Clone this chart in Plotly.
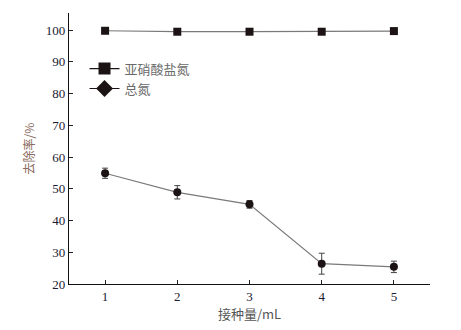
import plotly.graph_objects as go

inoculum = [1, 2, 3, 4, 5]
nitrite_removal = [99.8, 99.5, 99.5, 99.5, 99.7]
nitrite_err = [0.4, 0.4, 0.4, 0.4, 0.4]
tn_removal = [54.9, 48.9, 45.1, 26.4, 25.4]
tn_err = [1.6, 2.1, 1.2, 3.3, 1.8]
series_names = ["亚硝酸盐氮", "总氮"]
x_tick_vals = [1, 2, 3, 4, 5, 5.5]
x_tick_text = ["1", "2", "3", "4", "5", ""]
y_tick_vals = [20, 30, 40, 50, 60, 70, 80, 90, 100, 105.4]
y_tick_text = ["20", "30", "40", "50", "60", "70", "80", "90", "100", ""]

mark = "#1c1414"
line_c = "#7a7a7a"
serif = "Liberation Serif"
cjk = "Noto Sans CJK SC"

fig = go.Figure()
fig.add_trace(go.Scatter(
    x=inoculum, y=nitrite_removal, mode="lines+markers",
    line=dict(color=line_c, width=1.2),
    marker=dict(symbol="square", size=8, color=mark),
    error_y=dict(type="data", array=nitrite_err, color="#555", thickness=1, width=3),
    showlegend=False))
fig.add_trace(go.Scatter(
    x=inoculum, y=tn_removal, mode="lines+markers",
    line=dict(color=line_c, width=1.2),
    marker=dict(symbol="circle", size=8, color=mark),
    error_y=dict(type="data", array=tn_err, color="#444", thickness=1, width=3),
    showlegend=False))
# legend entries
fig.add_trace(go.Scatter(
    x=[None], y=[None], mode="lines+markers", name=series_names[0],
    line=dict(color=mark, width=1.2),
    marker=dict(symbol="square", size=12, color=mark)))
fig.add_trace(go.Scatter(
    x=[None], y=[None], mode="lines+markers", name=series_names[1],
    line=dict(color=mark, width=1.2),
    marker=dict(symbol="diamond", size=13, color=mark)))

fig.update_layout(
    width=453, height=322,
    margin=dict(l=61, r=31, t=5, b=46),
    plot_bgcolor="white", paper_bgcolor="white",
    legend=dict(x=0.043, y=0.85, xanchor="left", yanchor="top",
                bgcolor="rgba(0,0,0,0)",
                font=dict(family=cjk, size=13, color="#6a6a6a"),
                itemwidth=30, tracegroupgap=0),
    xaxis=dict(range=[0.5, 5.5], tickvals=x_tick_vals, ticktext=x_tick_text,
               ticks="inside", ticklen=4, tickcolor="#222", showgrid=False, zeroline=False,
               showline=True, linecolor="#111", linewidth=1.2,
               tickfont=dict(family=serif, size=13, color="#1a1a30"),
               title=dict(text="接种量/mL", font=dict(family=cjk, size=13, color="#555"), standoff=4)),
    yaxis=dict(range=[20, 105.4], tickvals=y_tick_vals, ticktext=y_tick_text,
               ticks="inside", ticklen=4, tickcolor="#222", showgrid=False, zeroline=False,
               showline=True, linecolor="#111", linewidth=1.2,
               tickfont=dict(family=serif, size=13, color="#1a1a30"),
               title=dict(text="去除率/%", font=dict(family=cjk, size=12, color="#8a6a5e"), standoff=8)),
)
fig.write_html("out.html")
